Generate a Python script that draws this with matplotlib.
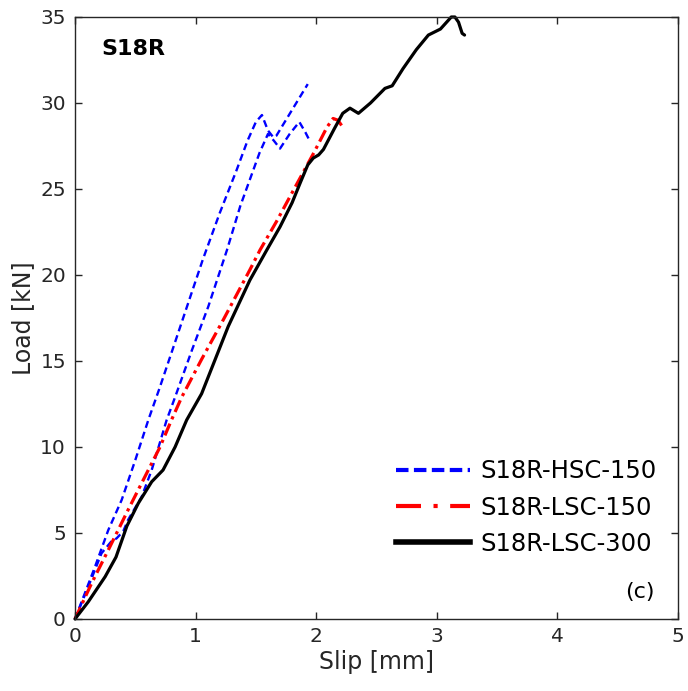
import matplotlib
matplotlib.use("Agg")
import matplotlib.pyplot as plt
from matplotlib.lines import Line2D

plt.rcParams['font.family'] = ['DejaVu Sans']

# HSC-150 specimen A
hsc_a_x = [0, 0.166, 0.276, 0.387, 0.50, 0.608, 0.70, 0.83, 0.94, 1.06, 1.20, 1.34, 1.43, 1.50, 1.55, 1.60, 1.645, 1.67, 1.80, 1.93]
hsc_a_y = [0, 3.04, 5.17, 6.92, 9.24, 11.57, 13.4, 16.1, 18.4, 20.9, 23.6, 26.1, 27.8, 28.9, 29.3, 28.4, 28.0, 28.1, 29.6, 31.1]
# HSC-150 specimen B
hsc_b_x = [0, 0.10, 0.22, 0.30, 0.345, 0.40, 0.44, 0.553, 0.636, 0.76, 0.83, 0.97, 1.105, 1.26, 1.37, 1.53, 1.60, 1.65, 1.70, 1.78, 1.86, 1.91, 1.95]
hsc_b_y = [0, 1.7, 3.82, 4.5, 4.69, 5.1, 5.76, 7.11, 8.66, 11.57, 12.9, 15.64, 18.16, 21.45, 24.0, 27.1, 28.2, 27.8, 27.35, 28.2, 28.9, 28.3, 27.75]
# LSC-150
lsc150_x = [0, 0.138, 0.276, 0.44, 0.594, 0.705, 0.80, 0.885, 1.05, 1.23, 1.45, 1.534, 1.67, 1.84, 1.98, 2.09, 2.14, 2.18, 2.22]
lsc150_y = [0, 2.08, 4.01, 6.34, 8.47, 10.0, 11.57, 12.9, 15.1, 17.4, 20.3, 21.45, 23.1, 25.3, 27.1, 28.6, 29.1, 29.0, 28.6]
# LSC-300
lsc300_x = [0, 0.11, 0.25, 0.34, 0.38, 0.43, 0.525, 0.636, 0.73, 0.83, 0.926, 1.05, 1.27, 1.45, 1.59, 1.70, 1.80, 1.87, 1.93, 1.976, 2.02, 2.06, 2.15, 2.22, 2.28, 2.35, 2.45, 2.57, 2.63, 2.72, 2.83, 2.93, 3.03, 3.12, 3.15, 3.18, 3.21, 3.23]
lsc300_y = [0, 1.0, 2.46, 3.6, 4.4, 5.4, 6.73, 7.98, 8.66, 10.0, 11.57, 13.1, 17.0, 19.7, 21.45, 22.8, 24.2, 25.4, 26.4, 26.8, 26.98, 27.3, 28.5, 29.4, 29.7, 29.4, 30.0, 30.85, 31.0, 32.0, 33.1, 33.95, 34.3, 35.0, 35.0, 34.7, 34.05, 33.95]

labels = ['S18R-HSC-150', 'S18R-LSC-150', 'S18R-LSC-300']
x_ticks = [0, 1, 2, 3, 4, 5]
y_ticks = [0, 5, 10, 15, 20, 25, 30, 35]

fig = plt.figure(figsize=(6.88, 6.91), dpi=100)
ax = fig.add_axes([0.109, 0.1042, 0.8765, 0.8712])

ax.plot(hsc_a_x, hsc_a_y, color='blue', lw=1.7, linestyle=(0, (3, 1.8)), clip_on=False)
ax.plot(hsc_b_x, hsc_b_y, color='blue', lw=1.7, linestyle=(0, (3, 1.8)), clip_on=False)
ax.plot(lsc150_x, lsc150_y, color='red', lw=2.3, linestyle=(0, (4, 1.5, 1, 1.5)), clip_on=False)
ax.plot(lsc300_x, lsc300_y, color='black', lw=2.3, solid_capstyle='round', clip_on=False)

ax.set_xlim(0, 5)
ax.set_ylim(0, 35)
ax.set_xticks(x_ticks)
ax.set_yticks(y_ticks)
ax.tick_params(direction='in', length=5, width=1, top=True, right=True,
               labelsize=14.5, colors='0.15')
ax.tick_params(axis='x', pad=6)
ax.tick_params(axis='y', pad=6.5)
for s in ax.spines.values():
    s.set_color('0.15')
    s.set_linewidth(1)
ax.set_xlabel('Slip [mm]', fontsize=17, color='0.15', labelpad=3)
ax.set_ylabel('Load [kN]', fontsize=17, color='0.15', labelpad=4)

ax.text(0.0443, 0.947, 'S18R', transform=ax.transAxes, fontsize=16, fontweight='bold',
        va='center', ha='left')
ax.text(0.937, 0.045, '(c)', transform=ax.transAxes, fontsize=16, va='center', ha='center')

handles = [
    Line2D([], [], color='blue', lw=3, linestyle=(0, (3, 1.3))),
    Line2D([], [], color='red', lw=3, linestyle=(0, (6, 3, 1, 3))),
    Line2D([], [], color='black', lw=4),
]
ax.legend(handles, labels, loc='lower right', bbox_to_anchor=(0.964, 0.105), frameon=False,
          fontsize=17.5, handlelength=3.05, handletextpad=0.41, labelspacing=0.5,
          borderaxespad=0, borderpad=0)

fig.savefig('out.png', dpi=100)
